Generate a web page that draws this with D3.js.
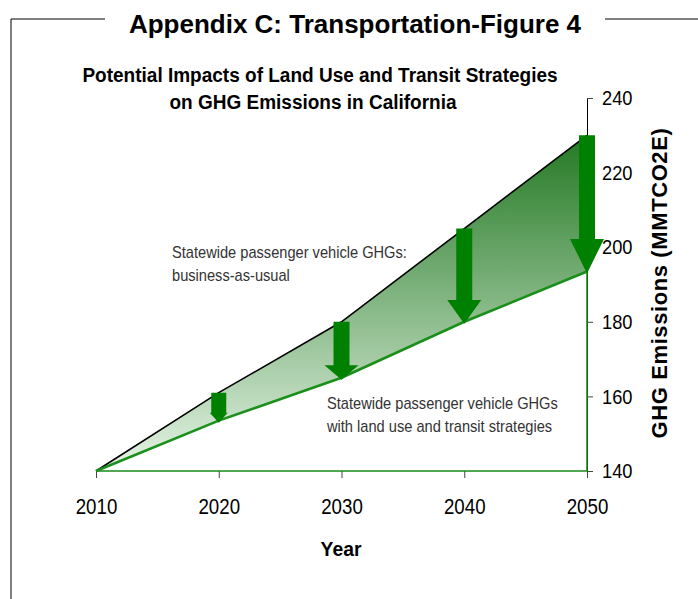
<!DOCTYPE html>
<html>
<head>
<meta charset="utf-8">
<script src="https://cdn.jsdelivr.net/npm/d3@7"></script>
<style>
  body { margin: 0; background: #fff; }
  svg { display: block; font-family: "Liberation Sans", Arial, sans-serif; }
</style>
</head>
<body>
<div class="canvas"></div>
<script>
// data
const years = [2010, 2020, 2030, 2040, 2050];
const businessAsUsual = [140, 161, 180, 205, 230];
const withStrategies = [140, 153.5, 165, 180, 193.5];
const arrowYears = [2020, 2030, 2040, 2050];
const yTicks = [140, 160, 180, 200, 220, 240];

// dimensions
const w = 698;
const h = 599;
const plot = { left: 96, right: 587, top: 98, bottom: 471 };

const svg = d3.select(".canvas").append("svg").attr("width", w).attr("height", h);

// no narrow font installed, so squeeze the glyphs instead
function condense(sel, factor) {
  sel.each(function () {
    const len = this.getComputedTextLength();
    d3.select(this).attr("textLength", len * factor).attr("lengthAdjust", "spacingAndGlyphs");
  });
}

// scales
const xScale = d3.scaleLinear().domain([2010, 2050]).range([plot.left, plot.right]);
const yScale = d3.scaleLinear().domain([140, 240]).range([plot.bottom, plot.top]);

const rows = years.map((yr, i) => ({ year: yr, bau: businessAsUsual[i], red: withStrategies[i] }));

// frame around the figure with the heading breaking the top line
svg.append("path")
  .attr("d", "M105,19 H11 V599 M605,19 H698")
  .attr("fill", "none")
  .attr("stroke", "#000")
  .attr("stroke-width", 1);

svg.append("text")
  .attr("x", 355)
  .attr("y", 33)
  .attr("text-anchor", "middle")
  .attr("font-weight", "bold")
  .attr("font-size", 26)
  .text("Appendix C: Transportation-Figure 4");

// chart title
const title = svg.append("text")
  .attr("text-anchor", "middle")
  .attr("font-weight", "bold")
  .attr("font-size", 20);
title.append("tspan").attr("x", 320).attr("y", 82).text("Potential Impacts of Land Use and Transit Strategies");
title.append("tspan").attr("x", 313).attr("y", 109).text("on GHG Emissions in California");
condense(title.selectAll("tspan"), 0.95);

// gradient for the reduction band
const grad = svg.append("defs").append("linearGradient")
  .attr("id", "band")
  .attr("gradientUnits", "userSpaceOnUse")
  .attr("x1", 0).attr("x2", 0)
  .attr("y1", yScale(232)).attr("y2", plot.bottom);
grad.append("stop").attr("offset", 0).attr("stop-color", "#1f761f");
grad.append("stop").attr("offset", 1).attr("stop-color", "#e6f4e6");

// y axis on the right
const yAxis = d3.axisRight(yScale).tickValues(yTicks).tickSize(6).tickPadding(9);
const gy = svg.append("g")
  .attr("transform", `translate(${plot.right}, 0)`)
  .call(yAxis);
gy.select(".domain").attr("stroke", "#000");
gy.selectAll(".tick line").attr("stroke", "#444");
gy.selectAll(".tick text")
  .attr("font-family", "Liberation Sans, Arial, sans-serif")
  .attr("font-size", 21)
  .attr("fill", "#000")
  .call(condense, 0.87);

// x axis
const xAxis = d3.axisBottom(xScale).tickValues(years).tickFormat(d3.format("d")).tickSize(7).tickPadding(20);
const gx = svg.append("g")
  .attr("transform", `translate(0, ${plot.bottom})`)
  .call(xAxis);
gx.select(".domain").remove();
gx.selectAll(".tick line").attr("stroke", "#444");
gx.selectAll(".tick text")
  .attr("font-family", "Liberation Sans, Arial, sans-serif")
  .attr("font-size", 22)
  .attr("fill", "#000")
  .call(condense, 0.85);

// band between the two lines
const area = d3.area()
  .x((d) => xScale(d.year))
  .y0((d) => yScale(d.red))
  .y1((d) => yScale(d.bau));
svg.append("path").datum(rows).attr("d", area).attr("fill", "url(#band)");

// business-as-usual line
svg.append("path")
  .datum(rows)
  .attr("d", d3.line().x((d) => xScale(d.year)).y((d) => yScale(d.bau)))
  .attr("fill", "none")
  .attr("stroke", "#000")
  .attr("stroke-width", 1.6);

// green axis lines along the bottom and right below the reduced line
svg.append("path")
  .attr("d", `M${plot.left},${plot.bottom} H${plot.right} V${yScale(withStrategies[4])}`)
  .attr("fill", "none")
  .attr("stroke", "#1a8a1a")
  .attr("stroke-width", 1.6);

// reduced line
svg.append("path")
  .datum(rows)
  .attr("d", d3.line().x((d) => xScale(d.year)).y((d) => yScale(d.red)))
  .attr("fill", "none")
  .attr("stroke", "#1a8f1a")
  .attr("stroke-width", 2.6);

// arrows from business-as-usual down to the reduced value
const arrows = rows.filter((d) => arrowYears.includes(d.year));
svg.selectAll(".arrow")
  .data(arrows)
  .enter()
  .append("path")
  .attr("class", "arrow")
  .attr("fill", "#008000")
  .attr("d", (d) => {
    const cx = xScale(d.year);
    const top = yScale(d.bau);
    const tip = yScale(d.red) + 2;
    const len = tip - top;
    const head = Math.max(10, len * 0.25);
    const hw = Math.min(17, len * 0.3);
    const sw = Math.min(8, len * 0.25);
    return `M${cx - sw},${top} H${cx + sw} V${tip - head} H${cx + hw} L${cx},${tip} L${cx - hw},${tip - head} H${cx - sw} Z`;
  });

// annotations
const ann1 = svg.append("text").attr("font-size", 17).attr("fill", "#333");
ann1.append("tspan").attr("x", 172).attr("y", 258).text("Statewide passenger vehicle GHGs:");
ann1.append("tspan").attr("x", 172).attr("y", 281).text("business-as-usual");
condense(ann1.selectAll("tspan"), 0.86);

const ann2 = svg.append("text").attr("font-size", 17).attr("fill", "#333");
ann2.append("tspan").attr("x", 327).attr("y", 409).text("Statewide passenger vehicle GHGs");
ann2.append("tspan").attr("x", 327).attr("y", 432).text("with land use and transit strategies");
condense(ann2.selectAll("tspan"), 0.86);

// axis titles
const yearLabel = svg.append("text")
  .attr("x", 341)
  .attr("y", 556)
  .attr("text-anchor", "middle")
  .attr("font-weight", "bold")
  .attr("font-size", 21)
  .text("Year");
condense(yearLabel, 0.92);

svg.append("text")
  .attr("transform", "translate(667, 283) rotate(-90)")
  .attr("text-anchor", "middle")
  .attr("font-weight", "bold")
  .attr("font-size", 22)
  .attr("letter-spacing", 0.6)
  .text("GHG Emissions (MMTCO2E)");
</script>
</body>
</html>
